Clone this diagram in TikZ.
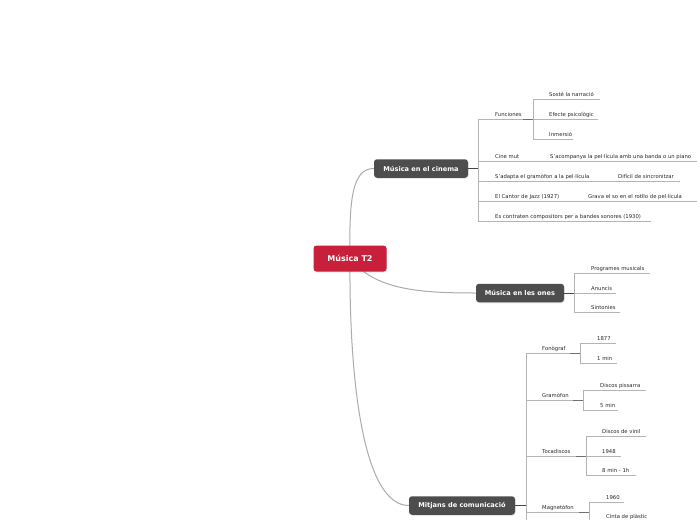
\documentclass[tikz,border=0pt]{standalone}
\usepackage{fontspec}
\setmainfont{DejaVu Sans}
\usetikzlibrary{backgrounds,shadows}
\definecolor{rootred}{HTML}{C8203A}
\definecolor{topicgray}{HTML}{4D4D4D}
\definecolor{ulgray}{HTML}{B4B4B4}
\definecolor{curvegray}{HTML}{ABABAB}
\definecolor{darkln}{HTML}{454545}
\definecolor{midln}{HTML}{707070}
\tikzset{
  rootbox/.style={fill=rootred, rounded corners=3pt, text=white, inner sep=0pt,
    minimum width=73pt, minimum height=26pt, font=\fontsize{8}{9}\selectfont\bfseries,
    drop shadow={opacity=0.2, shadow xshift=0.6pt, shadow yshift=-1pt}},
  topicbox/.style={fill=topicgray, rounded corners=3pt, text=white, inner sep=0pt,
    minimum height=18.5pt, font=\fontsize{6.6}{8}\selectfont\bfseries,
    drop shadow={opacity=0.2, shadow xshift=0.6pt, shadow yshift=-1pt}},
  leaf/.style={anchor=base west, inner sep=0pt, font=\fontsize{5.3}{6}\selectfont, text=black!85},
  uline/.style={draw=ulgray, line width=0.8pt},
  curveln/.style={draw=curvegray, line width=1pt},
  darkseg/.style={draw=darkln, line width=1pt},
  midseg/.style={draw=midln, line width=0.8pt},
}
\begin{document}
\begin{tikzpicture}[x=1pt, y=-1pt]
\useasboundingbox (0,0) rectangle (697,520);
\clip (0,0) rectangle (697,520);
% main nodes
\node[rootbox] (root) at (350,258.5) {Música T2};
\node[topicbox, minimum width=94pt] (cin) at (421,168.5) {Música en el cinema};
\node[topicbox, minimum width=88pt] (ones) at (520,293) {Música en les ones};
\node[topicbox, minimum width=106pt] (mit) at (462,505.5) {Mitjans de comunicació};

% curved connectors from root
\begin{scope}[on background layer]
\draw[curveln] (root.center) .. controls (349,200) and (352,168.5) .. (cin.west);
\draw[curveln] (root.center) .. controls (375,290) and (420,293) .. (ones.west);
\draw[curveln] (root.center) .. controls (349,380) and (363,505.5) .. (mit.west);
\end{scope}

% ---------- Música en el cinema ----------
\coordinate (cj) at (478,168.5);
\coordinate (cvt) at (478,119);
\coordinate (cvb) at (478,221);
\draw[darkseg] (cin.east) -- (cj);
\draw[uline] (cvt) -- (cvb);

% Funciones
\node[leaf] (fun) at (495,116) {Funciones};
\coordinate (funl) at (478,119);
\coordinate (fund) at (523,119);
\coordinate (funj) at (533,119);
\draw[uline] (funl) -- (fund);
\draw[midseg] (fund) -- (funj);
\coordinate (fvt) at (533,99);
\coordinate (fvb) at (533,139);
\draw[uline] (fvt) -- (fvb);
\node[leaf] (sos) at (549,96) {Sosté la narració};
\coordinate (sose) at (600,99);
\draw[uline] (fvt) -- (sose);
\node[leaf] (efe) at (549,116) {Efecte psicològic};
\coordinate (efee) at (598,119);
\draw[uline] (funj) -- (efee);
\node[leaf] (inm) at (549,136) {Inmersió};
\coordinate (inme) at (573,139);
\draw[uline] (fvb) -- (inme);

% Cine mut
\node[leaf] (cmut) at (495,158) {Cine mut};
\coordinate (cmutl) at (478,161);
\coordinate (cmutj) at (545,161);
\draw[uline] (cmutl) -- (cmutj);
\node[leaf] (acom) at (550,158) {S'acompanya la pel·lícula amb una banda o un piano};
\coordinate (acome) at (697,161);
\draw[uline] (cmutj) -- (acome);

% S'adapta
\node[leaf] (adap) at (495,178) {S'adapta el gramòfon a la pel·lícula};
\coordinate (adapl) at (478,181);
\coordinate (adapj) at (612,181);
\draw[uline] (adapl) -- (adapj);
\node[leaf] (dif) at (618,178) {Difícil de sincronitzar};
\coordinate (dife) at (680,181);
\draw[uline] (adapj) -- (dife);

% El Cantor de Jazz
\node[leaf] (jazz) at (495,198) {El Cantor de Jazz (1927)};
\coordinate (jazzl) at (478,201);
\coordinate (jazzj) at (582,201);
\draw[uline] (jazzl) -- (jazzj);
\node[leaf] (grava) at (588,198) {Grava el so en el rotllo de pel·lícula};
\coordinate (gravae) at (697,201);
\draw[uline] (jazzj) -- (gravae);

% Es contraten
\node[leaf] (cont) at (495,218) {Es contraten compositors per a bandes sonores (1930)};
\coordinate (conte) at (651,221);
\draw[uline] (cvb) -- (conte);

% ---------- Música en les ones ----------
\coordinate (oj) at (574,293);
\coordinate (ovt) at (574,273);
\coordinate (ovb) at (574,312);
\draw[darkseg] (ones.east) -- (oj);
\draw[uline] (ovt) -- (ovb);
\node[leaf] (prog) at (591,270) {Programes musicals};
\coordinate (proge) at (650,273);
\draw[uline] (ovt) -- (proge);
\node[leaf] (anun) at (591,290) {Anuncis};
\coordinate (anune) at (616,293);
\draw[uline] (oj) -- (anune);
\node[leaf] (sint) at (591,309) {Sintonies};
\coordinate (sinte) at (620,312);
\draw[uline] (ovb) -- (sinte);

% ---------- Mitjans de comunicació ----------
\coordinate (mj) at (526,505.5);
\coordinate (mvt) at (526,353);
\coordinate (mvb) at (526,525);
\draw[darkseg] (mit.east) -- (mj);
\draw[uline] (mvt) -- (mvb);

% Fonògraf
\node[leaf] (fono) at (542,350) {Fonògraf};
\coordinate (fonod) at (570,353);
\coordinate (fonoj) at (580,353);
\draw[uline] (mvt) -- (fonod);
\draw[midseg] (fonod) -- (fonoj);
\coordinate (fvt2) at (580,343);
\coordinate (fvb2) at (580,363);
\draw[uline] (fvt2) -- (fvb2);
\node[leaf] (y1877) at (597,340) {1877};
\coordinate (y1877e) at (616,343);
\draw[uline] (fvt2) -- (y1877e);
\node[leaf] (onemin) at (597,360) {1 min};
\coordinate (onemine) at (617,363);
\draw[uline] (fvb2) -- (onemine);

% Gramòfon
\node[leaf] (gram) at (542,397) {Gramòfon};
\coordinate (graml) at (526,400);
\coordinate (gramd) at (573,400);
\coordinate (gramj) at (583,400);
\draw[uline] (graml) -- (gramd);
\draw[midseg] (gramd) -- (gramj);
\coordinate (gvt) at (583,390);
\coordinate (gvb) at (583,410);
\draw[uline] (gvt) -- (gvb);
\node[leaf] (piss) at (600,387) {Discos pissarra};
\coordinate (pisse) at (646,390);
\draw[uline] (gvt) -- (pisse);
\node[leaf] (fivemin) at (600,407) {5 min};
\coordinate (fivemine) at (618,410);
\draw[uline] (gvb) -- (fivemine);

% Tocadiscos
\node[leaf] (toca) at (542,453) {Tocadiscos};
\coordinate (tocal) at (526,456);
\coordinate (tocad) at (576,456);
\coordinate (tocaj) at (586,456);
\draw[uline] (tocal) -- (tocad);
\draw[midseg] (tocad) -- (tocaj);
\coordinate (tvt) at (586,436);
\coordinate (tvb) at (586,475);
\draw[uline] (tvt) -- (tvb);
\node[leaf] (vinil) at (602,433) {Discos de vinil};
\coordinate (vinile) at (646,436);
\draw[uline] (tvt) -- (vinile);
\node[leaf] (y1948) at (602,453) {1948};
\coordinate (y1948e) at (621,456);
\draw[uline] (tocaj) -- (y1948e);
\node[leaf] (eightmin) at (602,472) {8 min - 1h};
\coordinate (eightmine) at (636,475);
\draw[uline] (tvb) -- (eightmine);

% Magnetòfon
\node[leaf] (magn) at (542,509) {Magnetòfon};
\coordinate (magnl) at (526,512);
\coordinate (magnd) at (579,512);
\coordinate (magnj) at (589,512);
\draw[uline] (magnl) -- (magnd);
\draw[midseg] (magnd) -- (magnj);
\coordinate (mvt2) at (589,502);
\coordinate (mvb2) at (589,530);
\draw[uline] (mvt2) -- (mvb2);
\node[leaf] (y1960) at (606,499) {1960};
\coordinate (y1960e) at (624,502);
\draw[uline] (mvt2) -- (y1960e);
\node[leaf] (cinta) at (606,518.5) {Cinta de plàstic};
\coordinate (cintal) at (589,522);
\coordinate (cintae) at (652,522);
\draw[uline] (cintal) -- (cintae);
\end{tikzpicture}
\end{document}
